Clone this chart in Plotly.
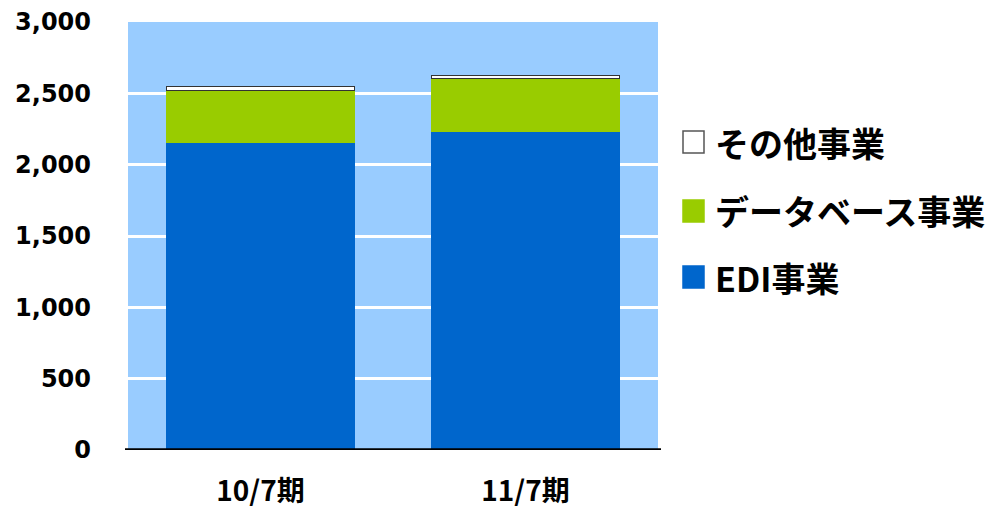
import plotly.graph_objects as go

# Fiscal periods and segment sales
periods = ["10/7期", "11/7期"]
edi = [2150, 2228]
database = [373, 375]
other = [22, 22]

series_names = ["EDI事業", "データベース事業", "その他事業"]
series_values = [edi, database, other]
fill_colors = ["#0066CC", "#99CC00", "#FFFFFF"]
line_colors = ["#0066CC", "#99CC00", "#333333"]
line_widths = [0, 0, 1]

y_ticks = [0, 500, 1000, 1500, 2000, 2500, 3000]

# plot area in pixels
W, H = 996, 508
L, R, T, B = 128, 658, 22, 450

fig = go.Figure()
for name, vals, fc, lc, lw in zip(series_names, series_values, fill_colors, line_colors, line_widths):
    fig.add_trace(go.Bar(
        x=periods, y=vals, name=name,
        marker=dict(color=fc, line=dict(color=lc, width=lw)),
        showlegend=False,
    ))

# Custom legend: squares + labels, top entry is the last series
def px_to_paper(px, py):
    return (px - L) / (R - L), (B - py) / (B - T)

legend_rows = [(series_names[2], fill_colors[2], "#555555", 142),
               (series_names[1], fill_colors[1], fill_colors[1], 211),
               (series_names[0], fill_colors[0], fill_colors[0], 277)]
shapes = []
annotations = []
for name, fc, lc, cy in legend_rows:
    x0, y0 = px_to_paper(683, cy + 11)
    x1, y1 = px_to_paper(704, cy - 11)
    shapes.append(dict(type="rect", xref="paper", yref="paper", x0=x0, y0=y0, x1=x1, y1=y1,
                       fillcolor=fc, line=dict(color=lc, width=1.5)))
    tx, ty = px_to_paper(713, cy)
    annotations.append(dict(xref="paper", yref="paper", x=tx, y=ty, text=name,
                            xanchor="left", yanchor="middle", showarrow=False,
                            font=dict(family="Noto Sans CJK JP", size=34, color="#000000", weight="bold")))

# thick baseline
bx0, _ = px_to_paper(125, B)
bx1, _ = px_to_paper(661, B)
shapes.append(dict(type="line", xref="paper", yref="y", x0=bx0, x1=bx1, y0=0, y1=0,
                   line=dict(color="#000000", width=3.5)))

fig.update_layout(
    width=W, height=H,
    margin=dict(l=L, r=W - R, t=T, b=H - B, pad=0),
    paper_bgcolor="#FFFFFF",
    plot_bgcolor="#99CCFF",
    barmode="stack",
    bargap=0.287,
    shapes=shapes,
    annotations=annotations,
    xaxis=dict(
        automargin=False,
        showgrid=False, zeroline=False, showline=False,
        ticks="", ticklabelstandoff=22,
        tickfont=dict(family="Noto Sans CJK JP", size=28, color="#000000", weight="bold"),
    ),
    yaxis=dict(
        automargin=False,
        range=[0, 3000], tickvals=y_ticks, tickformat=",d",
        showgrid=True, gridcolor="#FFFFFF", gridwidth=3,
        zeroline=False, showline=False, ticks="",
        ticklabelstandoff=36,
        tickfont=dict(family="DejaVu Sans", size=24, color="#000000", weight="bold"),
    ),
)

fig.write_html("out.html")
